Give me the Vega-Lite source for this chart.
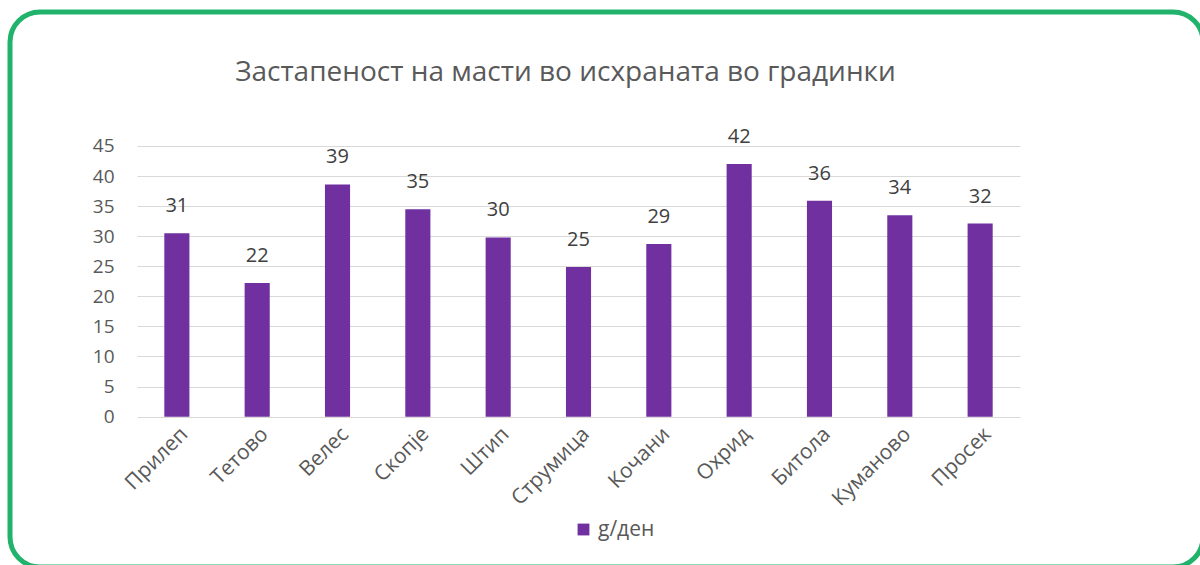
{
  "$schema": "https://vega.github.io/schema/vega-lite/v6.json",
  "width": 1193,
  "height": 555,
  "autosize": {"type": "none"},
  "padding": {"left": 10, "top": 12, "right": 0, "bottom": 0},
  "background": "white",
  "config": {
    "font": "Open Sans",
    "view": {"stroke": "#21B36B", "strokeWidth": 5, "cornerRadius": 30}
  },
  "title": {
    "text": "Застапеност на масти во исхраната во градинки",
    "fontSize": 28,
    "fontWeight": "normal",
    "color": "#595959",
    "font": "Open Sans",
    "anchor": "middle",
    "baseline": "alphabetic",
    "offset": -97,
    "dx": -41
  },
  "data": {
    "values": [
      {"city": "Прилеп", "value": 30.5, "series": "g/ден"},
      {"city": "Тетово", "value": 22.2, "series": "g/ден"},
      {"city": "Велес", "value": 38.6, "series": "g/ден"},
      {"city": "Скопје", "value": 34.5, "series": "g/ден"},
      {"city": "Штип", "value": 29.8, "series": "g/ден"},
      {"city": "Струмица", "value": 24.9, "series": "g/ден"},
      {"city": "Кочани", "value": 28.7, "series": "g/ден"},
      {"city": "Охрид", "value": 42.0, "series": "g/ден"},
      {"city": "Битола", "value": 35.9, "series": "g/ден"},
      {"city": "Куманово", "value": 33.5, "series": "g/ден"},
      {"city": "Просек", "value": 32.1, "series": "g/ден"}
    ]
  },
  "encoding": {
    "x": {
      "field": "city",
      "type": "nominal",
      "sort": null,
      "scale": {"range": [127, 1010], "paddingInner": 0.6875, "paddingOuter": 0.34},
      "axis": {
        "title": null,
        "orient": "bottom",
        "offset": -150,
        "domain": false,
        "ticks": false,
        "grid": false,
        "labelAngle": -45,
        "labelFontSize": 21,
        "labelColor": "#595959",
        "labelPadding": 6
      }
    },
    "y": {
      "field": "value",
      "type": "quantitative",
      "scale": {"domain": [-25, 67.28], "nice": false, "zero": false},
      "axis": {
        "title": null,
        "orient": "left",
        "offset": -1010,
        "values": [0, 5, 10, 15, 20, 25, 30, 35, 40, 45],
        "domain": false,
        "grid": false,
        "tickSize": 883,
        "tickColor": "#D9D9D9",
        "tickWidth": 1,
        "labelPadding": 23,
        "labelFontSize": 19,
        "labelColor": "#595959"
      }
    }
  },
  "layer": [
    {
      "mark": {"type": "bar"},
      "encoding": {
        "color": {
          "field": "series",
          "type": "nominal",
          "scale": {"range": ["#7030A0"]},
          "legend": {
            "orient": "none",
            "legendX": 563,
            "legendY": 507,
            "direction": "horizontal",
            "title": null,
            "symbolType": "square",
            "symbolSize": 140,
            "symbolStrokeWidth": 0,
            "labelFontSize": 21,
            "labelColor": "#595959"
          }
        }
      }
    },
    {
      "mark": {"type": "text", "baseline": "alphabetic", "dy": -21, "fontSize": 20, "color": "#404040"},
      "encoding": {
        "text": {"field": "value", "type": "quantitative", "format": ".0f"}
      }
    }
  ]
}
